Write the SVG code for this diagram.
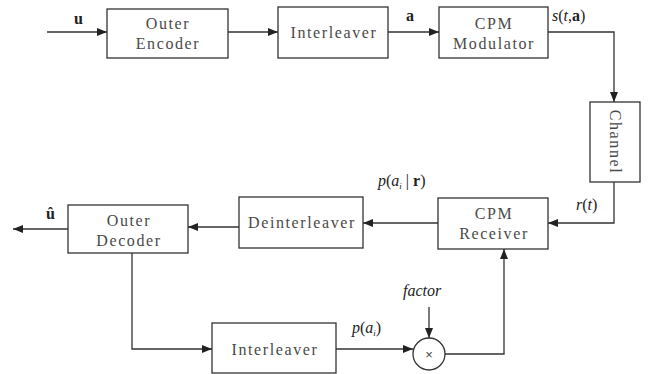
<svg xmlns="http://www.w3.org/2000/svg" width="648" height="374" viewBox="0 0 648 374">
  <style>
    .box { fill: #ffffff; stroke: #333333; stroke-width: 1.3; }
    .lbl { font-family: "Liberation Serif", "Times New Roman", serif; font-size: 16px; letter-spacing: 1.6px; fill: #4a4a4a; text-anchor: middle; }
    .math { font-family: "Liberation Serif", "Times New Roman", serif; font-size: 16px; fill: #222222; }
    .wire { fill: none; stroke: #333333; stroke-width: 1.3; }
  </style>
  <defs>
    <marker id="arrow" viewBox="0 0 10 8" refX="10" refY="4" markerWidth="10" markerHeight="8" markerUnits="userSpaceOnUse" orient="auto">
      <path d="M0,0 L10,4 L0,8 Z" fill="#222222"/>
    </marker>
  </defs>
  <rect width="648" height="374" fill="#ffffff"/>

  <g id="connectors">
    <path class="wire" d="M47,32 H107" marker-end="url(#arrow)"/>
    <path class="wire" d="M228,32 H278" marker-end="url(#arrow)"/>
    <path class="wire" d="M388,32 H439" marker-end="url(#arrow)"/>
    <path class="wire" d="M548,32 H614 V102" marker-end="url(#arrow)"/>
    <path class="wire" d="M614,182 V223 H548" marker-end="url(#arrow)"/>
    <path class="wire" d="M438,223 H363" marker-end="url(#arrow)"/>
    <path class="wire" d="M239,227 H188" marker-end="url(#arrow)"/>
    <path class="wire" d="M68,229 H13" marker-end="url(#arrow)"/>
    <path class="wire" d="M132,253 V349 H212" marker-end="url(#arrow)"/>
    <path class="wire" d="M336,349 H413" marker-end="url(#arrow)"/>
    <path class="wire" d="M429,307 V338" marker-end="url(#arrow)"/>
    <path class="wire" d="M445,354 H504 V249" marker-end="url(#arrow)"/>
  </g>

  <g id="outer-encoder">
    <rect class="box" x="107" y="9" width="121" height="49"/>
    <text class="lbl" x="168" y="29">Outer</text>
    <text class="lbl" x="168" y="49">Encoder</text>
  </g>
  <g id="interleaver-top">
    <rect class="box" x="278" y="7" width="110" height="51"/>
    <text class="lbl" x="334" y="38">Interleaver</text>
  </g>
  <g id="cpm-modulator">
    <rect class="box" x="439" y="7" width="109" height="51"/>
    <text class="lbl" x="494" y="29">CPM</text>
    <text class="lbl" x="494" y="49">Modulator</text>
  </g>
  <g id="channel">
    <rect class="box" x="590" y="102" width="50" height="80"/>
    <text class="lbl" transform="translate(610,142) rotate(90)" x="0" y="0">Channel</text>
  </g>
  <g id="cpm-receiver">
    <rect class="box" x="438" y="198" width="110" height="51"/>
    <text class="lbl" x="494" y="219">CPM</text>
    <text class="lbl" x="494" y="239">Receiver</text>
  </g>
  <g id="deinterleaver">
    <rect class="box" x="239" y="197" width="124" height="51"/>
    <text class="lbl" x="302" y="228">Deinterleaver</text>
  </g>
  <g id="outer-decoder">
    <rect class="box" x="68" y="205" width="120" height="48"/>
    <text class="lbl" x="129" y="226">Outer</text>
    <text class="lbl" x="129" y="246">Decoder</text>
  </g>
  <g id="interleaver-bottom">
    <rect class="box" x="212" y="323" width="124" height="50"/>
    <text class="lbl" x="275" y="355">Interleaver</text>
  </g>
  <g id="multiplier">
    <circle cx="429" cy="354" r="16" fill="#ffffff" stroke="#333333" stroke-width="1.3"/>
    <text x="429" y="359" font-family="Liberation Sans, Arial, sans-serif" font-size="13" fill="#444444" text-anchor="middle">×</text>
  </g>

  <g id="labels">
    <text class="math" x="74" y="24" font-weight="bold">u</text>
    <text class="math" x="406" y="21" font-weight="bold">a</text>
    <text class="math" x="552" y="21"><tspan font-style="italic">s</tspan>(<tspan font-style="italic">t</tspan>,<tspan font-weight="bold">a</tspan>)</text>
    <text class="math" x="576" y="210"><tspan font-style="italic">r</tspan>(<tspan font-style="italic">t</tspan>)</text>
    <text class="math" x="378" y="186"><tspan font-style="italic">p</tspan>(<tspan font-style="italic">a</tspan><tspan font-style="italic" font-size="9" dy="3">i</tspan><tspan dy="-3"> | </tspan><tspan font-weight="bold">r</tspan>)</text>
    <text class="math" x="352" y="333"><tspan font-style="italic">p</tspan>(<tspan font-style="italic">a</tspan><tspan font-style="italic" font-size="9" dy="3">i</tspan><tspan dy="-3">)</tspan></text>
    <text class="math" x="403" y="296" font-style="italic">factor</text>
    <text class="math" x="46" y="219" font-weight="bold">û</text>
  </g>
</svg>
